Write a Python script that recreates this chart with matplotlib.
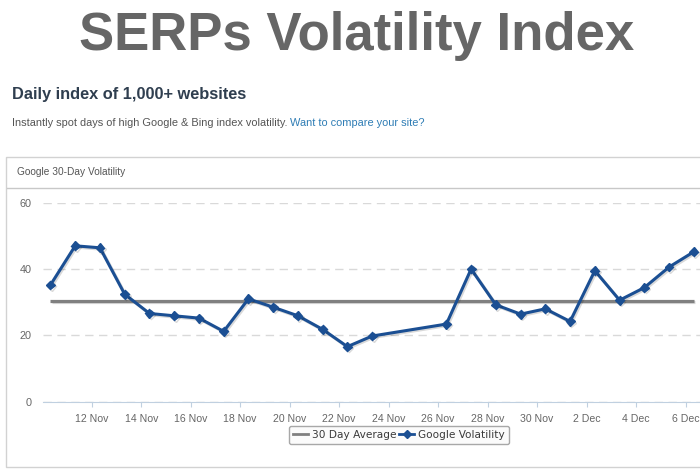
import matplotlib.pyplot as plt
import matplotlib.patheffects as pe
import numpy as np
import pandas as pd
from matplotlib.patches import Rectangle
from matplotlib.lines import Line2D
from matplotlib.colors import LinearSegmentedColormap

plt.rcParams['font.family'] = ['Liberation Sans', 'DejaVu Sans']

# data
days = ['2012-11-10', '2012-11-11', '2012-11-12', '2012-11-13', '2012-11-14',
        '2012-11-15', '2012-11-16', '2012-11-17', '2012-11-18', '2012-11-19',
        '2012-11-20', '2012-11-21', '2012-11-22', '2012-11-23', '2012-11-26',
        '2012-11-27', '2012-11-28', '2012-11-29', '2012-11-30', '2012-12-01',
        '2012-12-02', '2012-12-03', '2012-12-04', '2012-12-05', '2012-12-06']
volatility = [35.2, 47.0, 46.4, 32.4, 26.6, 25.9, 25.2, 21.2, 31.0, 28.5,
              25.9, 21.8, 16.6, 19.8, 23.4, 40.0, 29.2, 26.4, 28.0, 24.2,
              39.5, 30.6, 34.4, 40.6, 45.2]
average = 30.4
tick_days = ['2012-11-12', '2012-11-14', '2012-11-16', '2012-11-18', '2012-11-20',
             '2012-11-22', '2012-11-24', '2012-11-26', '2012-11-28', '2012-11-30',
             '2012-12-02', '2012-12-04', '2012-12-06']
tick_labels = ['12 Nov', '14 Nov', '16 Nov', '18 Nov', '20 Nov', '22 Nov', '24 Nov',
               '26 Nov', '28 Nov', '30 Nov', '2 Dec', '4 Dec', '6 Dec']

dates = pd.to_datetime(days) + pd.Timedelta(hours=8)
ticks = pd.to_datetime(tick_days)

W, H = 700, 474
fig = plt.figure(figsize=(7, 4.74), dpi=100)

# background drawing in pixel coordinates
bg = fig.add_axes([0, 0, 1, 1])
bg.axis('off')
bg.add_patch(Rectangle((6, 157), 720, 310, fc='white', ec='#d2d2d2', lw=1))
head = LinearSegmentedColormap.from_list('head', ['#f9f9f9', '#e1e1e1'])
foot = LinearSegmentedColormap.from_list('foot', ['#ffffff', '#e8e8e8'])
bg.imshow(np.linspace(0, 1, 60).reshape(-1, 1), extent=(6.5, 700, 188, 157.5),
          cmap=head, aspect='auto', origin='upper')
bg.imshow(np.linspace(0, 1, 60).reshape(-1, 1), extent=(6.5, 700, 466.5, 418),
          cmap=foot, aspect='auto', origin='upper')
bg.plot([6.5, 700], [188, 188], color='#c8c8c8', lw=1)
bg.set_xlim(0, W)
bg.set_ylim(H, 0)

fig.text(357 / W, 1 - 36 / H, 'SERPs Volatility Index', ha='center', va='center',
         fontsize=38, fontweight='bold', color='#666666')
fig.text(12 / W, 1 - 95 / H, 'Daily index of 1,000+ websites', ha='left', va='center',
         fontsize=11.75, fontweight='bold', color='#2f3e4f')
t = fig.text(12 / W, 1 - 123 / H, 'Instantly spot days of high Google & Bing index volatility. ',
             ha='left', va='center', fontsize=7.9, color='#555555')
fig.canvas.draw()
bb = t.get_window_extent()
fig.text(bb.x1 / W, 1 - 123 / H, 'Want to compare your site?', ha='left', va='center',
         fontsize=7.9, color='#2f7db5')
fig.text(17 / W, 1 - 172 / H, 'Google 30-Day Volatility', ha='left', va='center',
         fontsize=7.3, color='#555555')

# chart
ax = fig.add_axes([43 / W, (H - 401.7) / H, (W - 43) / W, 199 / H])
ax.patch.set_alpha(0)
ax.plot(dates, [average] * len(dates), color='#808080', lw=2.3, solid_capstyle='butt',
        path_effects=[pe.SimpleLineShadow(offset=(1, -1), alpha=0.15), pe.Normal()],
        clip_on=False, zorder=3)
ax.plot(dates, volatility, color='#1b4f93', lw=2.2, marker='D', ms=4.5,
        path_effects=[pe.SimpleLineShadow(offset=(1, -1), alpha=0.15), pe.Normal()],
        clip_on=False, zorder=4)

ax.set_xlim(pd.Timestamp('2012-11-10 00:45'), pd.Timestamp('2012-12-06 14:00'))
ax.set_ylim(0, 60)
ax.set_yticks([0, 20, 40, 60])
ax.set_xticks(ticks)
ax.set_xticklabels(tick_labels)
ax.grid(axis='y', color='#d9d9d9', lw=1, linestyle=(0, (6, 4)))
ax.set_axisbelow(True)
for s in ['top', 'right', 'left']:
    ax.spines[s].set_visible(False)
ax.spines['bottom'].set_color('#c0d0e0')
ax.tick_params(axis='y', length=0, pad=8, labelsize=7.8, labelcolor='#666666')
ax.tick_params(axis='x', length=3.5, color='#c0d0e0', pad=5, labelsize=7.6,
               labelcolor='#666666')

handles = [Line2D([], [], color='#808080', lw=2),
           Line2D([], [], color='#1b4f93', lw=2, marker='D', ms=4.5)]
leg = fig.legend(handles, ['30 Day Average', 'Google Volatility'], loc='center',
                 bbox_to_anchor=(399 / W, 1 - 435 / H), ncol=2, frameon=True,
                 fancybox=True, edgecolor='#a8a8a8', facecolor='#fbfbfb', framealpha=1,
                 prop={'family': 'DejaVu Sans', 'size': 7.6}, labelcolor='#3a3a3a',
                 handlelength=1.4, handletextpad=0.4, columnspacing=0.3,
                 borderpad=0.35)

fig.savefig('out.png', dpi=100)
